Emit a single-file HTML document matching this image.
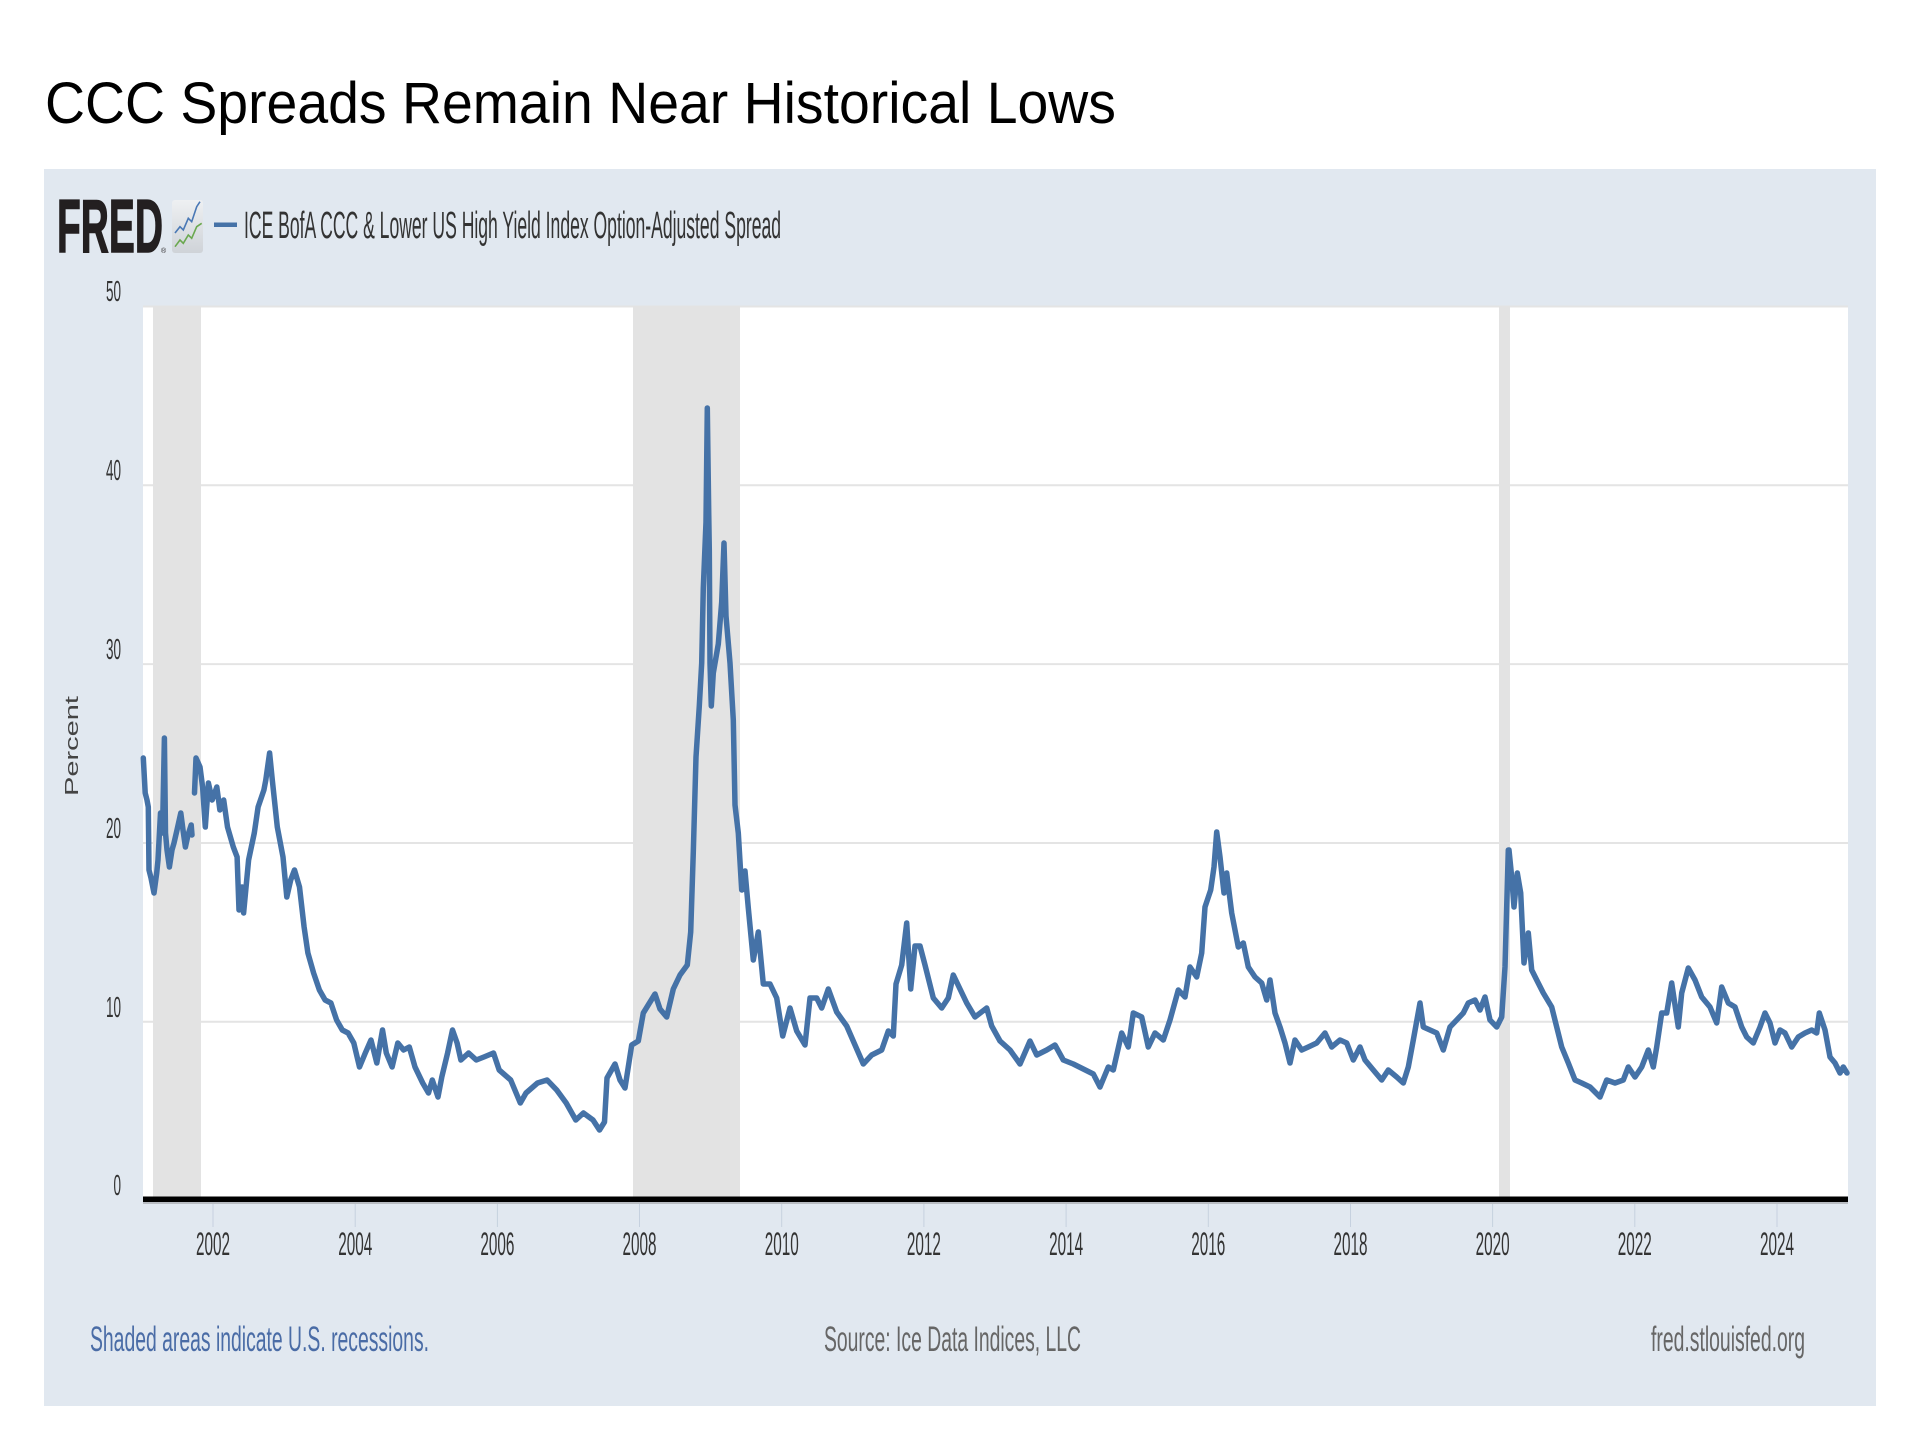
<!DOCTYPE html>
<html>
<head>
<meta charset="utf-8">
<style>
  html, body { margin: 0; padding: 0; background: #ffffff; }
  svg { display: block; }
  text { font-family: "Liberation Sans", Arial, sans-serif; }
</style>
</head>
<body>
<svg width="1920" height="1440" viewBox="0 0 1920 1440" xmlns="http://www.w3.org/2000/svg">
  <rect x="0" y="0" width="1920" height="1440" fill="#ffffff"/>

  <!-- Title -->
  <text x="45" y="123" font-size="58" fill="#000000" textLength="1071" lengthAdjust="spacingAndGlyphs">CCC Spreads Remain Near Historical Lows</text>

  <!-- Panel -->
  <rect x="44" y="169" width="1832" height="1237" fill="#e1e8f0"/>

  <!-- FRED logo -->
  <text x="57" y="252" font-size="75" font-weight="bold" fill="#231f20" stroke="#231f20" stroke-width="1.5" textLength="106" lengthAdjust="spacingAndGlyphs">FRED</text>
  <text x="161" y="253" font-size="7" fill="#231f20">®</text>
  <defs>
    <linearGradient id="ig" x1="0" y1="0" x2="0" y2="1">
      <stop offset="0" stop-color="#eef0f2"/>
      <stop offset="1" stop-color="#cfd3d8"/>
    </linearGradient>
  </defs>
  <rect x="172" y="200" width="31" height="53" rx="3" fill="url(#ig)"/>
  <polyline points="175,233 180,226.7 183.3,230 188.3,218.3 191.7,221.7 196.7,206.7 200,201.7" fill="none" stroke="#4a78b5" stroke-width="1.6"/>
  <polyline points="175,246.7 180,240 183.3,243.3 188.3,235 191.7,238.3 196.7,226.7 201.7,223.3" fill="none" stroke="#6aa84f" stroke-width="1.6"/>

  <!-- Legend -->
  <rect x="214" y="222.5" width="23" height="4.5" fill="#4572a7"/>
  <text x="244" y="238" font-size="38" fill="#333333" textLength="537" lengthAdjust="spacingAndGlyphs">ICE BofA CCC &amp; Lower US High Yield Index Option-Adjusted Spread</text>

  <!-- Plot area -->
  <rect x="143" y="306" width="1705" height="892" fill="#ffffff"/>

  <!-- Gridlines -->
  <g stroke="#e4e4e4" stroke-width="2">
    <line x1="143" y1="306.5" x2="1848" y2="306.5"/>
    <line x1="143" y1="485.3" x2="1848" y2="485.3"/>
    <line x1="143" y1="664.1" x2="1848" y2="664.1"/>
    <line x1="143" y1="843" x2="1848" y2="843"/>
    <line x1="143" y1="1021.8" x2="1848" y2="1021.8"/>
  </g>

  <!-- Recession shading -->
  <g fill="#e3e3e3">
    <rect x="153" y="306" width="48" height="891"/>
    <rect x="633" y="306" width="107" height="891"/>
    <rect x="1499" y="306" width="11" height="891"/>
  </g>

  <!-- Y labels -->
  <g font-size="29" fill="#333333" text-anchor="end">
    <text x="121" y="301" textLength="15" lengthAdjust="spacingAndGlyphs">50</text>
    <text x="121" y="480" textLength="15" lengthAdjust="spacingAndGlyphs">40</text>
    <text x="121" y="659" textLength="15" lengthAdjust="spacingAndGlyphs">30</text>
    <text x="121" y="838" textLength="15" lengthAdjust="spacingAndGlyphs">20</text>
    <text x="121" y="1017" textLength="15" lengthAdjust="spacingAndGlyphs">10</text>
    <text x="121" y="1195" textLength="7.5" lengthAdjust="spacingAndGlyphs">0</text>
  </g>

  <!-- Y axis title -->
  <text transform="translate(78,746) rotate(-90)" x="0" y="0" font-size="18" fill="#444444" text-anchor="middle" textLength="100" lengthAdjust="spacingAndGlyphs">Percent</text>

  <!-- Data line -->
  <g fill="none" stroke="#4572a7" stroke-width="5.5" stroke-linejoin="round" stroke-linecap="round">
    <polyline points="143.3,758 145.2,793 147,800 148.3,807 149,870 151,878 154,893 156.7,873 158,860 160.5,813 162.5,833 164.4,738 165.5,833 167,850 169.4,867 172,850 174,843 177,830 180.8,813 183,830 185.4,847 188,835 191.2,825 192,835"/>
    <polyline points="194.5,793 196,758 200,767 202.6,787 205.3,827 208.4,783 212.2,800 216.8,787 219.9,810 223.7,800 227.5,827 233.3,847 237.1,857 239,910 242,887 243.6,913 248.6,860 254.3,833 258.1,807 263.9,790 265.8,780 269.6,753 272.3,780 277.3,827 283,857 286.8,897 290.7,880 294.5,870 299.5,887 304.1,927 307.9,953 313.6,973 319.4,990 325.1,1000 330.9,1003 336.6,1020 342.3,1030 348.1,1033 353.8,1043 359.5,1067 365.3,1053 371,1040 376.8,1063 382.5,1030 386.3,1053 392.1,1067 397.8,1043 403.6,1050 409.3,1047 415,1067 422.7,1083 428.5,1093 432.3,1080 438,1097 441.8,1077 447.6,1053 452.5,1030 457.1,1043 460.9,1060 468.6,1053 476.3,1060 483.9,1057 493.5,1053 499.2,1070 510.7,1080 520.3,1103 526,1093 537.5,1083 547.1,1080 556.7,1090 566.2,1103 575.8,1120 583.4,1113 593,1120 599.5,1130 604.5,1122 607,1078 615,1064 620,1080 625,1088 631.7,1045 638.3,1041 643.3,1013 655,994 660,1009 666.7,1017 673.3,989 680,975 687.3,965 690.7,932 693.3,852 696,757 699.3,706 701.7,663 703.3,588 706,522 707.3,408 708.7,512 709.3,550 710,663 711.3,706 713.3,673 718.3,644 721.7,602 724,543 726,616 730,663 733.3,720 735,805 738.3,833 741.7,890 745,871 748.3,908 753.3,960 758.3,932 763.3,984 770,984 776.7,998 782.7,1036 790,1008 796.7,1031 805,1045 810,998 816.7,998 821.7,1008 828.3,989 836.7,1012 846.7,1026 855,1045 863.3,1064 871.7,1055 881.7,1050 888.3,1031 893.3,1036 896,984 901.7,965 906.7,923 910.7,989 915,946 920,946 925,965 933.3,998 941.7,1008 948.3,998 953.3,975 960,989 966.7,1003 975,1017 986.7,1008 991.7,1026 1000,1041 1010,1050 1020,1064 1030,1041 1036.7,1055 1046.7,1050 1055,1045 1063.3,1060 1073.3,1064 1083.3,1069 1093.3,1074 1100,1087 1108.3,1067 1113.3,1070 1121.7,1033 1128.3,1047 1133.3,1013 1141.7,1017 1148.3,1047 1155,1033 1163.3,1040 1170,1020 1178.3,990 1185,997 1190,967 1196.7,977 1201.7,953 1205,907 1210.7,890 1214,867 1216.7,832 1220,857 1224,893 1226.7,873 1231.7,913 1238.3,947 1243.3,943 1248.3,967 1255,977 1261.7,983 1266.7,1000 1270,980 1275,1013 1280,1027 1285,1043 1290,1063 1295,1040 1301.7,1050 1308.3,1047 1316.7,1043 1325,1033 1331.7,1047 1340,1040 1346.7,1043 1353.3,1060 1360,1047 1365,1060 1373.3,1070 1381.7,1080 1388.3,1070 1396.7,1077 1403.3,1083 1408.3,1067 1413.3,1040 1420,1003 1423.3,1027 1430,1030 1436.7,1033 1443.3,1050 1450,1027 1456.7,1020 1463.3,1013 1468.3,1003 1475,1000 1480,1010 1485,997 1490,1020 1496.7,1027 1501.7,1017 1505,967 1508.3,850 1509,850 1511.7,877 1514,907 1517.3,873 1520.7,893 1524,963 1528.3,933 1531.7,970 1536.7,980 1543.3,993 1551.7,1007 1556.7,1027 1561.7,1047 1568.3,1063 1575,1080 1581.7,1083 1590,1087 1600,1097 1606.7,1080 1615,1083 1623.3,1080 1628.3,1067 1635,1077 1641.7,1067 1648.3,1050 1653.3,1067 1656.7,1047 1661.7,1013 1666.7,1013 1671.7,983 1678.3,1027 1681.7,993 1688.3,968 1695,980 1701.7,997 1710,1007 1716.7,1023 1721.7,987 1728.3,1003 1735,1007 1741.7,1027 1746.7,1037 1753.3,1043 1760,1027 1765,1013 1770,1023 1775,1043 1780,1030 1785,1033 1791.7,1047 1798.3,1037 1805,1033 1811.7,1030 1816.7,1033 1819.3,1013 1825,1030 1830,1057 1835,1063 1840,1073 1843.3,1067 1847,1073"/>
  </g>

  <!-- X axis line -->
  <rect x="143" y="1196.5" width="1705" height="5.5" fill="#000000"/>
  <rect x="143" y="1202" width="1705" height="2" fill="#b8bcc2"/>

  <!-- X ticks -->
  <g stroke="#c6d1df" stroke-width="1">
    <line x1="213" y1="1204" x2="213" y2="1227"/>
    <line x1="355.2" y1="1204" x2="355.2" y2="1227"/>
    <line x1="497.4" y1="1204" x2="497.4" y2="1227"/>
    <line x1="639.5" y1="1204" x2="639.5" y2="1227"/>
    <line x1="781.7" y1="1204" x2="781.7" y2="1227"/>
    <line x1="923.9" y1="1204" x2="923.9" y2="1227"/>
    <line x1="1066.1" y1="1204" x2="1066.1" y2="1227"/>
    <line x1="1208.3" y1="1204" x2="1208.3" y2="1227"/>
    <line x1="1350.5" y1="1204" x2="1350.5" y2="1227"/>
    <line x1="1492.6" y1="1204" x2="1492.6" y2="1227"/>
    <line x1="1634.8" y1="1204" x2="1634.8" y2="1227"/>
    <line x1="1777" y1="1204" x2="1777" y2="1227"/>
  </g>

  <!-- X labels -->
  <g font-size="32" fill="#333333" text-anchor="middle">
    <text x="213" y="1255" textLength="34" lengthAdjust="spacingAndGlyphs">2002</text>
    <text x="355.2" y="1255" textLength="34" lengthAdjust="spacingAndGlyphs">2004</text>
    <text x="497.4" y="1255" textLength="34" lengthAdjust="spacingAndGlyphs">2006</text>
    <text x="639.5" y="1255" textLength="34" lengthAdjust="spacingAndGlyphs">2008</text>
    <text x="781.7" y="1255" textLength="34" lengthAdjust="spacingAndGlyphs">2010</text>
    <text x="923.9" y="1255" textLength="34" lengthAdjust="spacingAndGlyphs">2012</text>
    <text x="1066.1" y="1255" textLength="34" lengthAdjust="spacingAndGlyphs">2014</text>
    <text x="1208.3" y="1255" textLength="34" lengthAdjust="spacingAndGlyphs">2016</text>
    <text x="1350.5" y="1255" textLength="34" lengthAdjust="spacingAndGlyphs">2018</text>
    <text x="1492.6" y="1255" textLength="34" lengthAdjust="spacingAndGlyphs">2020</text>
    <text x="1634.8" y="1255" textLength="34" lengthAdjust="spacingAndGlyphs">2022</text>
    <text x="1777" y="1255" textLength="34" lengthAdjust="spacingAndGlyphs">2024</text>
  </g>

  <!-- Footer -->
  <text x="90" y="1351" font-size="35" fill="#4a6ca6" textLength="339" lengthAdjust="spacingAndGlyphs">Shaded areas indicate U.S. recessions.</text>
  <text x="824" y="1351" font-size="35" fill="#666666" textLength="257" lengthAdjust="spacingAndGlyphs">Source: Ice Data Indices, LLC</text>
  <text x="1651" y="1351" font-size="35" fill="#666666" textLength="154" lengthAdjust="spacingAndGlyphs">fred.stlouisfed.org</text>
</svg>
</body>
</html>
